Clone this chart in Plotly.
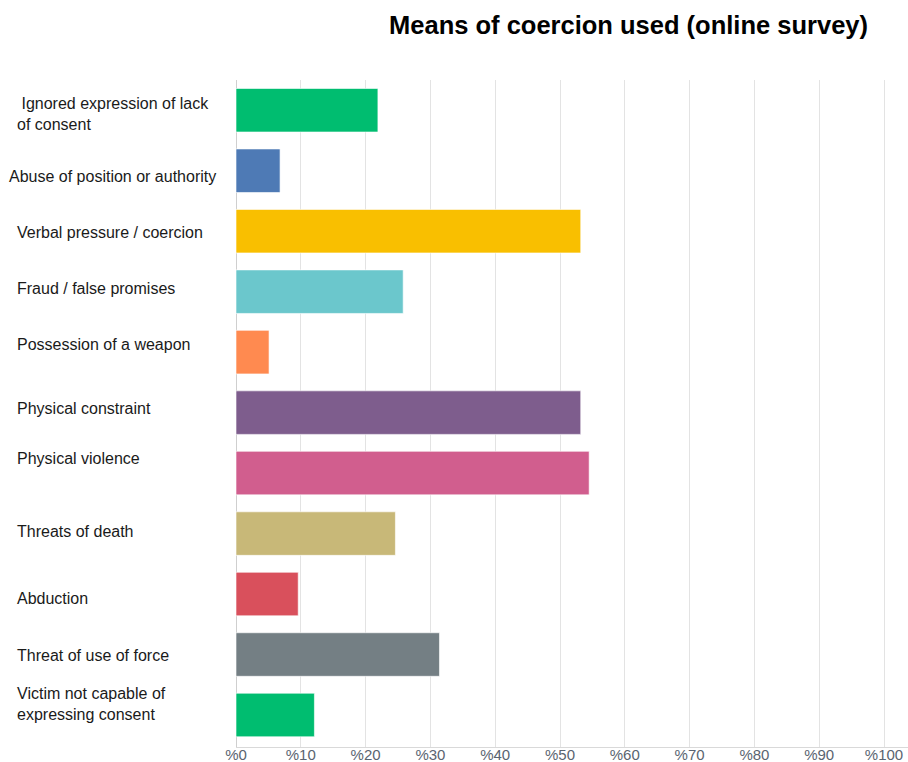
import plotly.graph_objects as go

categories = [
    "Ignored expression of lack of consent",
    "Abuse of position or authority",
    "Verbal pressure / coercion",
    "Fraud / false promises",
    "Possession of a weapon",
    "Physical constraint",
    "Physical violence",
    "Threats of death",
    "Abduction",
    "Threat of use of force",
    "Victim not capable of expressing consent",
]
label_text = [
    "&nbsp;Ignored expression of lack<br>of consent",
    "Abuse of position or authority",
    "Verbal pressure / coercion",
    "Fraud / false promises",
    "Possession of a weapon",
    "Physical constraint",
    "Physical violence",
    "Threats of death",
    "Abduction",
    "Threat of use of force",
    "Victim not capable of<br>expressing consent",
]
values = [21.9, 6.8, 53.2, 25.8, 5.1, 53.2, 54.5, 24.6, 9.6, 31.4, 12.1]
colors = ["#00BD70", "#4E7AB5", "#F9BF00", "#6BC7CC", "#FF8A50", "#7E5D8D",
          "#D15E8E", "#C8B878", "#D9505C", "#747F84", "#00BD70"]

# layout offsets for the left-hand labels (pixels)
label_x_px = [15, 7, 15, 15, 15, 15, 15, 15, 15, 15, 15]
label_yshift = [-4, -6, -1, 3, 8, 4, 15, 2, -4, -1, 11]

W, H = 908, 762
ml, mr, mt, mb = 236, 0, 80, 15
px_per_unit = 6.48
plot_w = W - ml - mr

fig = go.Figure(go.Bar(
    y=categories, x=values, orientation="h",
    marker=dict(color=colors, line=dict(color="rgba(255,255,255,0.6)", width=1)),
    width=0.72, showlegend=False, hoverinfo="x+y",
))

for cat, txt, xp, ys in zip(categories, label_text, label_x_px, label_yshift):
    fig.add_annotation(
        x=(xp - ml) / plot_w, xref="paper", y=cat, yref="y",
        text=txt, showarrow=False, xanchor="left", align="left",
        yshift=ys, font=dict(family="Liberation Sans, Arial", size=16, color="#1a1a1a"),
    )

fig.update_layout(
    width=W, height=H,
    margin=dict(l=ml, r=mr, t=mt, b=mb, autoexpand=False),
    paper_bgcolor="white", plot_bgcolor="white",
    title=dict(text="<b>Means of coercion used (online survey)</b>",
               x=868 / W, xanchor="right", xref="container", y=1 - 25 / H, yanchor="middle",
               yref="container",
               font=dict(family="Liberation Sans, Arial", size=25.5, color="#000000")),
    bargap=0.28,
)
fig.update_xaxes(
    range=[0, plot_w / px_per_unit], tick0=0, dtick=10, tickmode="linear", tickprefix="%",
    showtickprefix="all",
    showgrid=True, gridcolor="#E3E3E3", gridwidth=1,
    showline=True, linecolor="#D9D9D9", linewidth=1,
    zeroline=True, zerolinecolor="#CFCFCF", zerolinewidth=1,
    tickfont=dict(family="Liberation Sans Narrow, Liberation Sans, Arial", size=15, color="#5a6470"),
    ticks="", ticklabelstandoff=-6, automargin=False, fixedrange=True,
)
fig.update_yaxes(
    categoryorder="array", categoryarray=categories, autorange="reversed",
    showticklabels=False, showgrid=False, zeroline=False, showline=False,
    automargin=False, fixedrange=True,
)

fig.write_html("out.html")
